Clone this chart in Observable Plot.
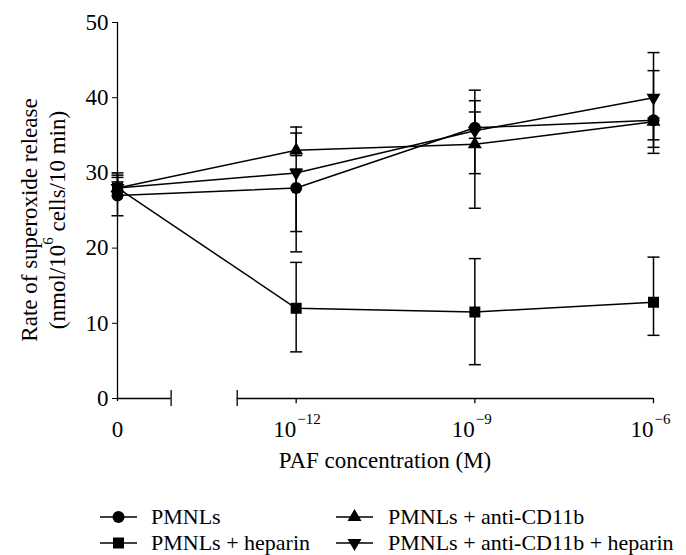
<!DOCTYPE html>
<html><head><meta charset="utf-8">
<script src="https://cdn.jsdelivr.net/npm/d3@7"></script>
<script src="https://cdn.jsdelivr.net/npm/@observablehq/plot@0.6"></script>
<style>
body{margin:0;background:#fff;font-family:"Liberation Serif","DejaVu Serif",serif;}
#wrap{position:relative;width:686px;height:555px;overflow:hidden;}
#legend{position:absolute;left:0;top:475px;width:686px;height:80px;}
.lg{position:absolute;}
.lt{position:absolute;font-family:"Liberation Serif","DejaVu Serif",serif;font-size:22px;line-height:22px;color:#000;white-space:nowrap;transform:translateY(-50%);}
svg text{font-family:"Liberation Serif","DejaVu Serif",serif;}
</style></head><body><div id="wrap"><div id="chart"></div><div id="legend"></div></div>
<script>
// ---- data ----
const concPos = [0, 1, 2, 3];
const concBase = ["0", "10", "10", "10"];
const concExp = ["", "−12", "−9", "−6"];
const yTicks = [0, 10, 20, 30, 40, 50];
const seriesNames = ["PMNLs", "PMNLs + heparin", "PMNLs + anti-CD11b", "PMNLs + anti-CD11b + heparin"];

const pmnlsMean = [27, 28, 36, 37];
const pmnlsLow  = [24.3, 19.5, 29.9, 33.4];
const pmnlsHigh = [29.7, 36.1, 41.0, 43.6];

const heparinMean = [28, 12, 11.5, 12.8];
const heparinLow  = [27.5, 6.2, 4.5, 8.4];
const heparinHigh = [30.0, 18.1, 18.6, 18.8];

const antiMean = [28, 33, 33.8, 36.8];
const antiLow  = [27.5, 32.3, 25.3, 32.6];
const antiHigh = [29.4, 35.3, 38.1, 37.3];

const antiHepMean = [28, 30, 35.6, 40.0];
const antiHepLow  = [27.5, 22.2, 34.6, 34.4];
const antiHepHigh = [28.8, 30.5, 39.6, 46.0];

const axisSegments = [[0, 0.3], [0.67, 3]];
const breakEnds = [0.3, 0.67];

// ---- table ----
const means = [pmnlsMean, heparinMean, antiMean, antiHepMean];
const lows = [pmnlsLow, heparinLow, antiLow, antiHepLow];
const highs = [pmnlsHigh, heparinHigh, antiHigh, antiHepHigh];
const rows = [];
seriesNames.forEach((s, k) => concPos.forEach((x, i) => rows.push({series: s, x, y: means[k][i], lo: lows[k][i], hi: highs[k][i]})));
const ticksTbl = concPos.map((x, i) => ({x, base: concBase[i], exp: concExp[i]}));

// ---- symbols ----
const triangleDown = {draw(ctx, size) {
  const y = -Math.sqrt(size / (Math.sqrt(3) * 3));
  ctx.moveTo(0, -2 * y);
  ctx.lineTo(-Math.sqrt(3) * y, y);
  ctx.lineTo(Math.sqrt(3) * y, y);
  ctx.closePath();
}};
const capSymbol = {draw(ctx) { ctx.moveTo(-6, 0); ctx.lineTo(6, 0); }};
const styles = [
  {symbol: "circle", r: 6},
  {symbol: "square", r: 6.2},
  {symbol: "triangle", r: 5.2},
  {symbol: triangleDown, r: 5.2}
];
const FONT = "Liberation Serif, DejaVu Serif, serif";
const FS = 23;

const marks = [
  Plot.axisY(yTicks, {tickSize: 5, tickPadding: 4, fontSize: FS, label: null}),
  Plot.ruleX([0], {x: d => d, y1: () => -0.4, y2: () => 50, strokeWidth: 1.3}),
  Plot.ruleY(axisSegments, {y: () => 0, x1: d => d[0], x2: d => d[1], strokeWidth: 1.3}),
  Plot.ruleX(breakEnds, {x: d => d, y1: () => -1.07, y2: () => 1.07, strokeWidth: 1.3}),
  Plot.ruleX(concPos.slice(1), {x: d => d, y1: () => 0, y2: () => -0.7, strokeWidth: 1.3}),
  Plot.text(ticksTbl.filter(d => d.exp === ""), {x: "x", y: () => 0, text: "base", dy: 31, fontSize: FS, textAnchor: "middle"}),
  Plot.text(ticksTbl.filter(d => d.exp !== ""), {x: "x", y: () => 0, text: "base", dy: 31, fontSize: FS, textAnchor: "end"}),
  Plot.text(ticksTbl.filter(d => d.exp !== ""), {x: "x", y: () => 0, text: "exp", dy: 21, dx: 1, fontSize: 15, textAnchor: "start"}),
  Plot.ruleX(rows, {x: "x", y1: "lo", y2: "hi", strokeWidth: 1.5}),
  Plot.dot(rows, {x: "x", y: "lo", symbol: capSymbol, stroke: "black", fill: "none", strokeWidth: 1.5}),
  Plot.dot(rows, {x: "x", y: "hi", symbol: capSymbol, stroke: "black", fill: "none", strokeWidth: 1.5}),
  Plot.line(rows, {x: "x", y: "y", z: "series", stroke: "black", strokeWidth: 1.5}),
  ...seriesNames.map((s, k) => Plot.dot(rows.filter(d => d.series === s), {x: "x", y: "y", symbol: styles[k].symbol, r: styles[k].r, fill: "black", stroke: "none"}))
];

const chart = Plot.plot({
  width: 686, height: 475,
  marginTop: 22, marginBottom: 77, marginLeft: 117, marginRight: 33,
  x: {domain: [0, 3], axis: null},
  y: {domain: [0, 50], axis: null},
  style: {fontFamily: FONT, fontSize: FS + "px", color: "black", background: "white"},
  marks
});
document.getElementById("chart").appendChild(chart);

// titles
const svg = d3.select(chart);
const yc = 220;
svg.append("text").attr("transform", `translate(29,${yc}) rotate(-90)`).attr("text-anchor", "middle")
  .attr("dominant-baseline", "central").attr("font-size", FS).attr("font-family", FONT)
  .text("Rate of superoxide release");
const t2 = svg.append("text").attr("transform", `translate(57,${yc}) rotate(-90)`).attr("text-anchor", "middle")
  .attr("dominant-baseline", "central").attr("font-size", FS).attr("font-family", FONT);
t2.append("tspan").text("(nmol/10");
t2.append("tspan").attr("font-size", 15).attr("dy", -9).text("6");
t2.append("tspan").attr("dy", 9).text(" cells/10 min)");
svg.append("text").attr("x", 385).attr("y", 460).attr("text-anchor", "middle").attr("dominant-baseline", "central")
  .attr("font-size", FS).attr("font-family", FONT).text("PAF concentration (M)");

// legend
const legend = document.getElementById("legend");
const legPos = [
  {gx: 100, tx: 151, y: 42},
  {gx: 100, tx: 151, y: 68},
  {gx: 336, tx: 388, y: 42},
  {gx: 336, tx: 388, y: 68}
];
seriesNames.forEach((s, k) => {
  const p = legPos[k];
  const g = d3.create("svg").attr("width", 38).attr("height", 20).attr("class", "lg")
    .style("left", p.gx + "px").style("top", (p.y - 10) + "px");
  g.append("line").attr("x1", 0).attr("x2", 37).attr("y1", 10).attr("y2", 10).attr("stroke", "black").attr("stroke-width", 1.5);
  const sym = typeof styles[k].symbol === "string"
    ? {circle: d3.symbolCircle, square: d3.symbolSquare, triangle: d3.symbolTriangle}[styles[k].symbol]
    : styles[k].symbol;
  const rr = styles[k].r;
  g.append("path").attr("transform", "translate(18.5,10)").attr("d", d3.symbol(sym, rr * rr * Math.PI)()).attr("fill", "black");
  legend.appendChild(g.node());
  const t = document.createElement("div");
  t.className = "lt"; t.style.left = p.tx + "px"; t.style.top = p.y + "px"; t.textContent = s;
  legend.appendChild(t);
});
</script></body></html>
